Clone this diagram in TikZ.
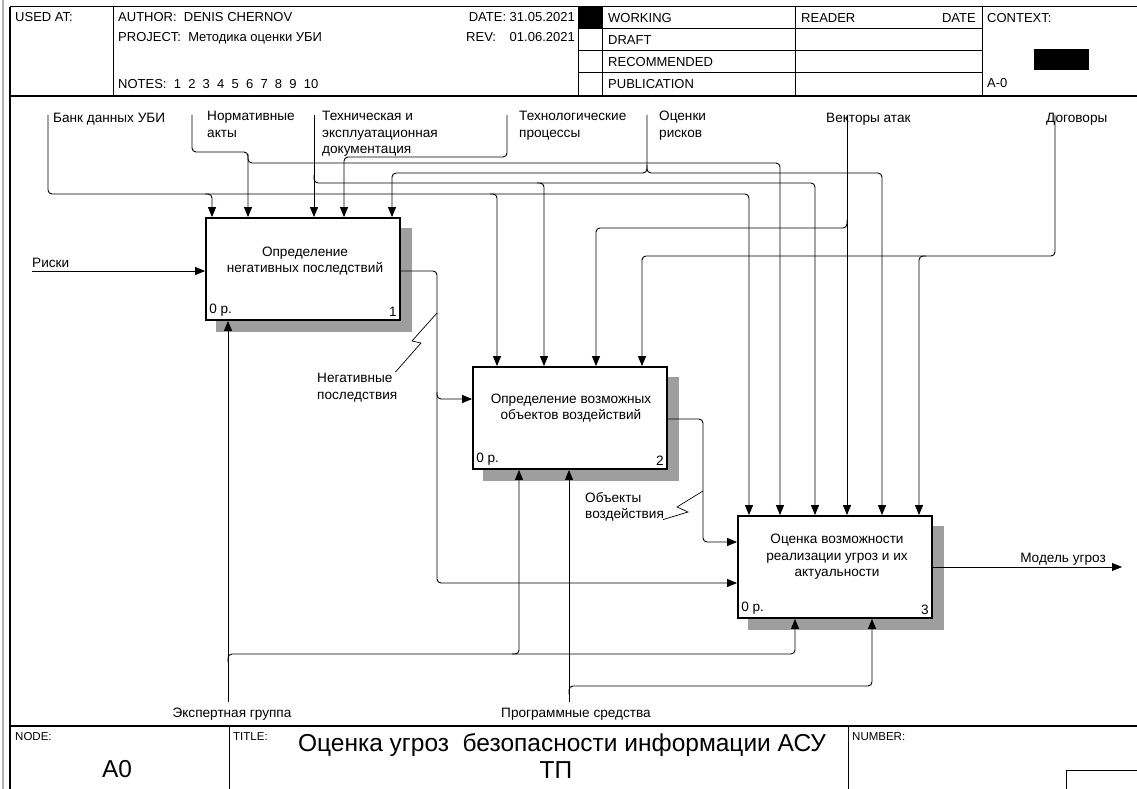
\documentclass[tikz,border=0pt]{standalone}
\usepackage{fontspec}
\setmainfont{Liberation Sans}
\usetikzlibrary{arrows.meta,calc,backgrounds}
\newcommand\lblfont{\fontsize{13.6}{16.5}\selectfont}
\newcommand\hdrfont{\fontsize{13}{15}\selectfont}
\newcommand\smlfont{\fontsize{11.5}{13}\selectfont}
\newcommand\bigfont{\fontsize{24.5}{28}\selectfont}
\begin{document}
\begin{tikzpicture}[x=1pt,y=-1pt,
  ln/.style={line width=0.9pt, rounded corners=4pt},
  arr/.style={ln, -{Triangle[length=10pt,width=8pt]}},
  box/.style={draw, line width=1.8pt, fill=white, minimum width=194pt, minimum height=102pt, inner sep=0pt},
  shade/.style={fill=black!38},
  lbl/.style={inner sep=0pt, font=\lblfont, align=left},
  boxtxt/.style={inner sep=0pt, font=\lblfont, align=center},
  hdr/.style={inner sep=0pt, font=\hdrfont, anchor=base west},
  sml/.style={inner sep=0pt, font=\smlfont, anchor=base west},
  frame/.style={line width=1pt},
]
\useasboundingbox (0,0) rectangle (1137,789);
% ---------- frame ----------
\draw[gray!60, line width=2pt] (3,0) -- (3,789);
\draw[line width=1.5pt] (10,7) -- (10,789);
\draw[frame] (10,7) -- (1137,7);
\draw[line width=1.6pt] (10,96) -- (1137,96);
\foreach \xx in {113,578,602,795,982} \draw[frame] (\xx,7) -- (\xx,96);
\foreach \yy in {29,51,73} \draw[frame] (578,\yy) -- (982,\yy);
\fill (578,7) rectangle (602,29);
\fill (1034,49) rectangle (1089,70);
\draw[line width=1.4pt] (10,726) -- (1137,726);
\draw[frame] (229,726) -- (229,789);
\draw[frame] (848,726) -- (848,789);
\draw[frame] (1137,770) -- (1066,770) -- (1066,789);
% ---------- header texts ----------
\node[hdr] (hUsed) at (15,22) {USED AT:};
\node[hdr] (hAuth) at (118,22) {AUTHOR:\ \ DENIS CHERNOV};
\node[hdr] (hProj) at (118,42) {PROJECT:\ \ Методика оценки УБИ};
\node[hdr] (hNotes) at (118,89) {NOTES:\ \ 1\ \ 2\ \ 3\ \ 4\ \ 5\ \ 6\ \ 7\ \ 8\ \ 9\ \ 10};
\node[hdr, anchor=base east] (hDate) at (575,22) {DATE: 31.05.2021};
\node[hdr] (hRev) at (466,42) {REV:};
\node[hdr, anchor=base east] (hRevD) at (575,42) {01.06.2021};
\node[hdr] (hWork) at (608,22.5) {WORKING};
\node[hdr] (hDraft) at (608,44.5) {DRAFT};
\node[hdr] (hRec) at (608,66.5) {RECOMMENDED};
\node[hdr] (hPub) at (608,89) {PUBLICATION};
\node[hdr] (hRead) at (801,22.5) {READER};
\node[hdr, anchor=base east] (hRDate) at (976,22.5) {DATE};
\node[hdr] (hCtx) at (987,22.5) {CONTEXT:};
\node[hdr] (hA0) at (987,88) {A-0};
% ---------- footer texts ----------
\node[sml] (fNode) at (15,740) {NODE:};
\node[sml] (fTitle) at (233,740) {TITLE:};
\node[sml] (fNum) at (852,740) {NUMBER:};
\node[inner sep=0pt, font=\bigfont, anchor=base] (fA0) at (117,777) {A0};
\node[inner sep=0pt, font=\bigfont, anchor=base] (fT1) at (562,751) {Оценка угроз\ \ безопасности информации АСУ};
\node[inner sep=0pt, font=\bigfont, anchor=base] (fT2) at (556,778) {ТП};
% ---------- boxes ----------
\node[box] (b1) at (303,269) {};
\node[box] (b2) at (570,418) {};
\node[box] (b3) at (835,567) {};
\begin{pgfonlayer}{background}
\fill[shade] ($(b1.south west)+(11,11)$) rectangle ($(b1.north east)+(11,11)$);
\fill[shade] ($(b2.south west)+(11,11)$) rectangle ($(b2.north east)+(11,11)$);
\fill[shade] ($(b3.south west)+(11,11)$) rectangle ($(b3.north east)+(11,11)$);
\end{pgfonlayer}
\node[boxtxt] (b1t) at (305,261) {Определение\\негативных последствий};
\node[boxtxt] (b2t) at (571,408) {Определение возможных\\объектов воздействий};
\node[boxtxt] (b3t) at (837,557) {Оценка возможности\\реализации угроз и их\\актуальности};
\node[lbl, anchor=south west] (b1p) at ($(b1.south west)+(4,-4)$) {0 р.};
\node[lbl, anchor=south east] (b1n) at ($(b1.south east)+(-4,-4)$) {1};
\node[lbl, anchor=south west] (b2p) at ($(b2.south west)+(4,-4)$) {0 р.};
\node[lbl, anchor=south east] (b2n) at ($(b2.south east)+(-4,-4)$) {2};
\node[lbl, anchor=south west] (b3p) at ($(b3.south west)+(4,-4)$) {0 р.};
\node[lbl, anchor=south east] (b3n) at ($(b3.south east)+(-4,-4)$) {3};
% ---------- arrow labels ----------
\node[lbl, anchor=base west] (lBank) at (53,122) {Банк данных УБИ};
\node[lbl, anchor=north west] (lNorm) at (207,111) {Нормативные\\акты};
\node[lbl, anchor=north west] (lTech) at (322,111) {Техническая и\\эксплуатационная\\документация};
\node[lbl, anchor=north west] (lProc) at (519,111) {Технологические\\процессы};
\node[lbl, anchor=north west] (lRisk) at (659,111) {Оценки\\рисков};
\node[lbl, anchor=base west] (lVec) at (826,122) {Векторы атак};
\node[lbl, anchor=base west] (lDog) at (1046,122) {Договоры};
\node[lbl, anchor=base west] (lIn) at (32,267) {Риски};
\node[lbl, anchor=base east] (lOut) at (1106,562) {Модель угроз};
\node[lbl, anchor=base] (lExp) at (232,717) {Экспертная группа};
\node[lbl, anchor=base] (lSoft) at (576,717) {Программные средства};
\node[lbl, anchor=north west] (lNeg) at (317,373) {Негативные\\последствия};
\node[lbl, anchor=north west] (lObj) at (585,492) {Объекты\\воздействия};
% ---------- free ends ----------
\coordinate (sBank) at (48,115);
\coordinate (sNorm) at (192,115);
\coordinate (sTech) at (314,115);
\coordinate (sProc) at (507,115);
\coordinate (sRisk) at (647,115);
\coordinate (sVec) at (847,115);
\coordinate (sDog) at (1055,115);
\coordinate (sIn) at (32,271);
\coordinate (sExp) at (228,702);
\coordinate (sSoft) at (569,702);
\coordinate (eOut) at (1122,567);
% ---------- controls ----------
\draw[arr] (sBank) -- (48,194) -- (749,194) -- (749,0 |- b3.north);
\draw[arr] (205,194) -- (212,194) -- (212,0 |- b1.north);
\draw[arr] (490,194) -- (497,194) -- (497,0 |- b2.north);
\draw[arr] (sNorm) -- (192,152) -- (248,152) -- (248,0 |- b1.north);
\draw[arr] (248,154) -- (248,163) -- (780,163) -- (780,0 |- b3.north);
\draw[arr] (sTech) -- (314,0 |- b1.north);
\draw[arr] (314,175) -- (314,183) -- (815,183) -- (815,0 |- b3.north);
\draw[arr] (537,183) -- (544,183) -- (544,0 |- b2.north);
\draw[arr] (sProc) -- (507,157) -- (344,157) -- (344,0 |- b1.north);
\draw[arr] (sRisk) -- (647,173) -- (392,173) -- (392,0 |- b1.north);
\draw[arr] (647,165) -- (647,173) -- (882,173) -- (882,0 |- b3.north);
\draw[arr] (sVec) -- (847,0 |- b3.north);
\draw[arr] (847,220) -- (847,228) -- (596,228) -- (596,0 |- b2.north);
\draw[arr] (sDog) -- (1055,256) -- (642,256) -- (642,0 |- b2.north);
\draw[arr] (926,256) -- (919,256) -- (919,0 |- b3.north);
% ---------- inputs / outputs ----------
\draw[arr] (sIn) -- (sIn -| b1.west);
\draw[arr] (b1.east |- 0,271) -- (437,271) -- (437,583) -- (b3.west |- 0,583);
\draw[arr] (437,392) -- (437,399) -- (b2.west |- 0,399);
\draw[arr] (b2.east |- 0,419) -- (703,419) -- (703,542) -- (b3.west |- 0,542);
\draw[arr] (b3.east |- eOut) -- (eOut);
% ---------- mechanisms ----------
\draw[arr] (sExp) -- (sExp |- b1.south);
\draw[arr] (228,662) -- (228,654) -- (795,654) -- (795,0 |- b3.south);
\draw[arr] (512,654) -- (519,654) -- (519,0 |- b2.south);
\draw[arr] (sSoft) -- (sSoft |- b2.south);
\draw[arr] (569,694) -- (569,686) -- (872,686) -- (872,0 |- b3.south);
% ---------- squiggles ----------
\draw[line width=0.7pt] (lNeg.north east) ++(-2,-1) -- (421,343) -- (412,341) -- (437,313);
\draw[line width=0.7pt] (lObj.south east) ++(-1,-2) -- (688,512) -- (677,507) -- (703,491);
\end{tikzpicture}
\end{document}
